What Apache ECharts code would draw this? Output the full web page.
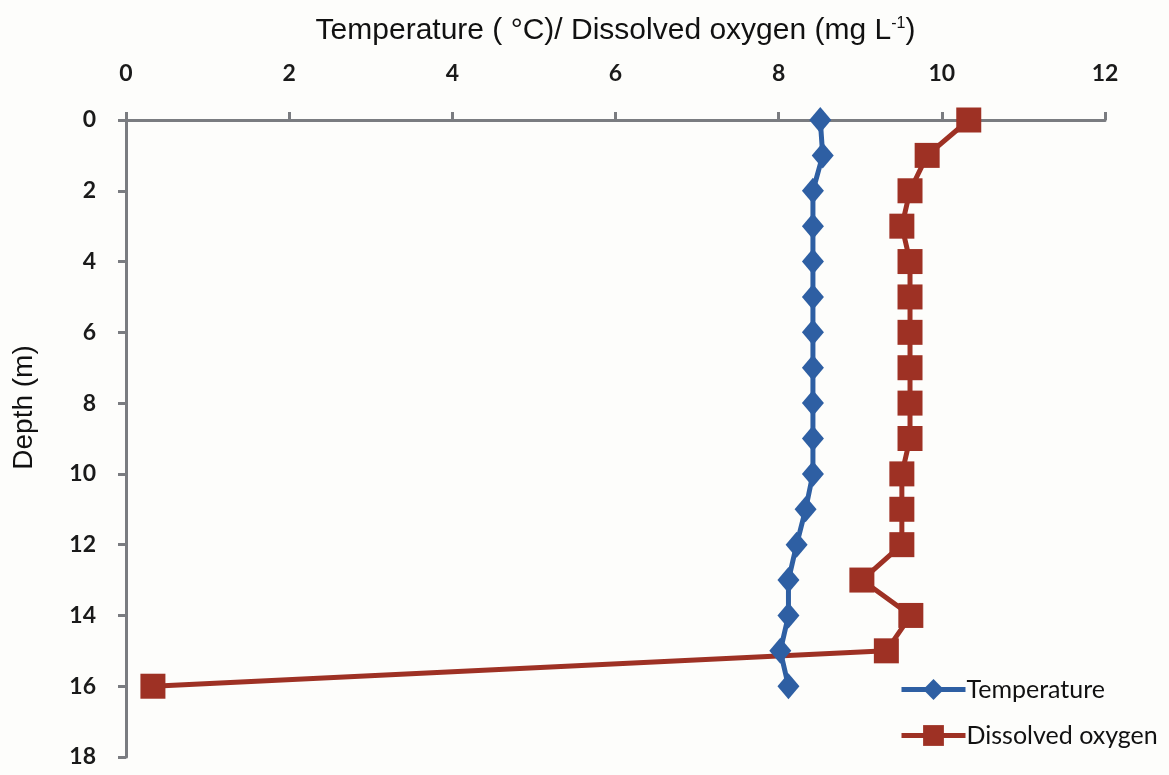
<!DOCTYPE html>
<html>
<head>
<meta charset="utf-8">
<script src="https://cdn.jsdelivr.net/npm/echarts@6/dist/echarts.min.js"></script>
<style>
  html, body { margin: 0; padding: 0; background: #fdfdfb; }
  #chart { width: 1169px; height: 775px; }
</style>
</head>
<body>
<div id="chart"></div>
<script>
// Depth profile (m) with temperature and dissolved oxygen readings
const depths = [0, 1, 2, 3, 4, 5, 6, 7, 8, 9, 10, 11, 12, 13, 14, 15, 16];
const temperature = [8.51, 8.54, 8.42, 8.42, 8.42, 8.42, 8.42, 8.42, 8.42, 8.42, 8.42, 8.33, 8.22, 8.12, 8.12, 8.02, 8.12];
const dissolvedOxygen = [10.33, 9.82, 9.61, 9.51, 9.61, 9.61, 9.61, 9.61, 9.61, 9.61, 9.51, 9.51, 9.51, 9.02, 9.62, 9.32, 0.33];
const seriesNames = ['Temperature', 'Dissolved oxygen'];

const toPoints = vals => vals.map((v, i) => [v, depths[i]]);

const chart = echarts.init(document.getElementById('chart'));
const axisLabelStyle = { fontFamily: 'Lato', fontWeight: 'bold', fontSize: 23, color: '#1a1a1a' };
const axisLineStyle = { lineStyle: { color: '#7a7c80', width: 3 } };
const tickStyle = { show: true, inside: false, length: 8, lineStyle: { color: '#7a7c80', width: 3 } };
const nameFont = 'Liberation Sans, Arial, sans-serif';

chart.setOption({
  backgroundColor: '#fdfdfb',
  animation: false,
  grid: { left: 126, right: 64, top: 120, bottom: 18, containLabel: false, outerBoundsMode: 'none' },
  xAxis: {
    type: 'value',
    position: 'top',
    min: 0, max: 12, interval: 2,
    name: 'Temperature ( °C)/ Dissolved oxygen (mg L{sup|-1})',
    nameLocation: 'middle',
    nameGap: 74,
    nameTextStyle: {
      fontFamily: nameFont, fontSize: 30, color: '#111',
      rich: { sup: { fontFamily: nameFont, fontSize: 16, verticalAlign: 'top', padding: [0, 0, 14, 0], color: '#111' } }
    },
    axisLine: axisLineStyle,
    axisTick: tickStyle,
    axisLabel: Object.assign({ margin: 35 }, axisLabelStyle),
    splitLine: { show: false }
  },
  yAxis: {
    type: 'value',
    inverse: true,
    min: 0, max: 18, interval: 2,
    name: 'Depth (m)',
    nameLocation: 'middle',
    nameGap: 88,
    nameTextStyle: { fontFamily: nameFont, fontSize: 28, color: '#111', padding: [0, 0, 0, 62] },
    axisLine: axisLineStyle,
    axisTick: tickStyle,
    axisLabel: Object.assign({ margin: 30 }, axisLabelStyle),
    splitLine: { show: false }
  },
  legend: {
    orient: 'vertical',
    left: 894,
    top: 672,
    itemWidth: 64,
    itemHeight: 26,
    itemGap: 21,
    lineStyle: { width: 5 },
    textStyle: { fontFamily: 'Lato', fontSize: 25, color: '#111', padding: [0, 0, 0, -4] },
    data: seriesNames
  },
  series: [
    {
      name: seriesNames[0],
      type: 'line',
      data: toPoints(temperature),
      symbol: 'diamond',
      symbolSize: [22, 26],
      lineStyle: { color: '#2e5fa3', width: 5 },
      itemStyle: { color: '#2e5fa3' }
    },
    {
      name: seriesNames[1],
      type: 'line',
      data: toPoints(dissolvedOxygen),
      symbol: 'rect',
      symbolSize: 25,
      lineStyle: { color: '#9e3124', width: 5 },
      itemStyle: { color: '#9e3124' }
    }
  ]
});
</script>
</body>
</html>
